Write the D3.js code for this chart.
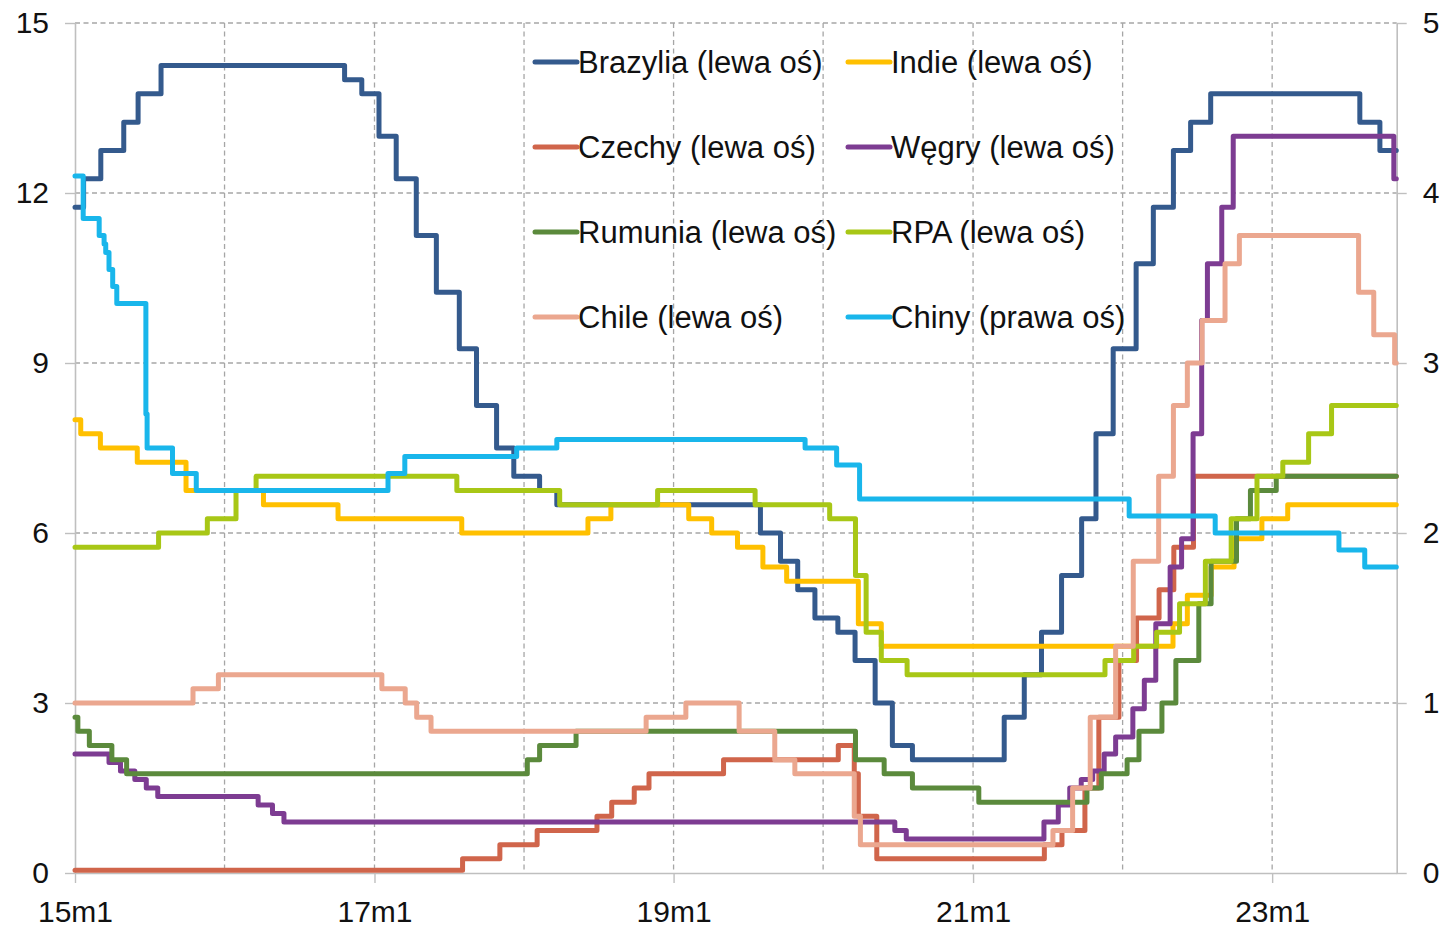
<!DOCTYPE html>
<html>
<head>
<meta charset="utf-8">
<script src="https://cdn.jsdelivr.net/npm/d3@7"></script>
<style>
  html, body { margin: 0; padding: 0; background: #ffffff; }
  svg { display: block; }
</style>
</head>
<body>
<svg id="chart" width="1445" height="929"></svg>
<script>
// Policy rates, step changes: [date of change, rate in %]
const brazil = [
  ["2015-01-01", 11.75], ["2015-01-22", 12.25], ["2015-03-05", 12.75], ["2015-04-30", 13.25],
  ["2015-06-04", 13.75], ["2015-07-30", 14.25], ["2016-10-20", 14.00], ["2016-12-01", 13.75],
  ["2017-01-12", 13.00], ["2017-02-23", 12.25], ["2017-04-13", 11.25], ["2017-06-01", 10.25],
  ["2017-07-27", 9.25], ["2017-09-07", 8.25], ["2017-10-26", 7.50], ["2017-12-07", 7.00],
  ["2018-02-08", 6.75], ["2018-03-22", 6.50], ["2019-08-01", 6.00], ["2019-09-19", 5.50],
  ["2019-10-31", 5.00], ["2019-12-12", 4.50], ["2020-02-06", 4.25], ["2020-03-19", 3.75],
  ["2020-05-07", 3.00], ["2020-06-18", 2.25], ["2020-08-06", 2.00], ["2021-03-18", 2.75],
  ["2021-05-06", 3.50], ["2021-06-17", 4.25], ["2021-08-05", 5.25], ["2021-09-23", 6.25],
  ["2021-10-28", 7.75], ["2021-12-09", 9.25], ["2022-02-03", 10.75], ["2022-03-17", 11.75],
  ["2022-05-05", 12.75], ["2022-06-16", 13.25], ["2022-08-04", 13.75], ["2023-08-03", 13.25],
  ["2023-09-21", 12.75], ["2023-10-31", 12.75]
];
const india = [
  ["2015-01-01", 8.00], ["2015-01-15", 7.75], ["2015-03-04", 7.50], ["2015-06-02", 7.25],
  ["2015-09-29", 6.75], ["2016-04-05", 6.50], ["2016-10-04", 6.25], ["2017-08-02", 6.00],
  ["2018-06-06", 6.25], ["2018-08-01", 6.50], ["2019-02-07", 6.25], ["2019-04-04", 6.00],
  ["2019-06-06", 5.75], ["2019-08-07", 5.40], ["2019-10-04", 5.15], ["2020-03-27", 4.40],
  ["2020-05-22", 4.00], ["2022-05-04", 4.40], ["2022-06-08", 4.90], ["2022-08-05", 5.40],
  ["2022-09-30", 5.90], ["2022-12-07", 6.25], ["2023-02-08", 6.50], ["2023-10-31", 6.50]
];
const czech = [
  ["2015-01-01", 0.05], ["2017-08-04", 0.25], ["2017-11-03", 0.50], ["2018-02-02", 0.75],
  ["2018-06-28", 1.00], ["2018-08-03", 1.25], ["2018-09-27", 1.50], ["2018-11-02", 1.75],
  ["2019-05-03", 2.00], ["2020-02-07", 2.25], ["2020-03-17", 1.75], ["2020-03-27", 1.00],
  ["2020-05-11", 0.25], ["2021-06-24", 0.50], ["2021-08-06", 0.75], ["2021-10-01", 1.50],
  ["2021-11-04", 2.75], ["2021-12-23", 3.75], ["2022-02-04", 4.50], ["2022-03-31", 5.00],
  ["2022-05-06", 5.75], ["2022-06-23", 7.00], ["2023-10-31", 7.00]
];
const hungary = [
  ["2015-01-01", 2.10], ["2015-03-25", 1.95], ["2015-04-22", 1.80], ["2015-05-27", 1.65],
  ["2015-06-24", 1.50], ["2015-07-22", 1.35], ["2016-03-23", 1.20], ["2016-04-27", 1.05],
  ["2016-05-25", 0.90], ["2020-06-24", 0.75], ["2020-07-22", 0.60], ["2021-06-23", 0.90],
  ["2021-07-28", 1.20], ["2021-08-25", 1.50], ["2021-09-22", 1.65], ["2021-10-20", 1.80],
  ["2021-11-17", 2.10], ["2021-12-15", 2.40], ["2022-01-26", 2.90], ["2022-02-23", 3.40],
  ["2022-03-23", 4.40], ["2022-04-27", 5.40], ["2022-05-25", 5.90], ["2022-06-22", 7.75],
  ["2022-07-13", 9.75], ["2022-07-27", 10.75], ["2022-08-31", 11.75], ["2022-09-28", 13.00],
  ["2023-10-25", 12.25], ["2023-10-31", 12.25]
];
const romania = [
  ["2015-01-01", 2.75], ["2015-01-08", 2.50], ["2015-02-05", 2.25], ["2015-04-01", 2.00],
  ["2015-05-07", 1.75], ["2018-01-09", 2.00], ["2018-02-08", 2.25], ["2018-05-08", 2.50],
  ["2020-03-20", 2.00], ["2020-05-29", 1.75], ["2020-08-06", 1.50], ["2021-01-15", 1.25],
  ["2021-10-06", 1.50], ["2021-11-10", 1.75], ["2022-01-12", 2.00], ["2022-02-10", 2.50],
  ["2022-04-07", 3.00], ["2022-05-11", 3.75], ["2022-07-06", 4.75], ["2022-08-05", 5.50],
  ["2022-10-06", 6.25], ["2022-11-09", 6.75], ["2023-01-11", 7.00], ["2023-10-31", 7.00]
];
const rpa = [
  ["2015-01-01", 5.75], ["2015-07-24", 6.00], ["2015-11-20", 6.25], ["2016-01-29", 6.75],
  ["2016-03-18", 7.00], ["2017-07-21", 6.75], ["2018-03-29", 6.50], ["2018-11-23", 6.75],
  ["2019-07-19", 6.50], ["2020-01-17", 6.25], ["2020-03-20", 5.25], ["2020-04-15", 4.25],
  ["2020-05-22", 3.75], ["2020-07-24", 3.50], ["2021-11-19", 3.75], ["2022-01-28", 4.00],
  ["2022-03-25", 4.25], ["2022-05-20", 4.75], ["2022-07-22", 5.50], ["2022-09-23", 6.25],
  ["2022-11-25", 7.00], ["2023-01-27", 7.25], ["2023-03-31", 7.75], ["2023-05-26", 8.25],
  ["2023-10-31", 8.25]
];
const chile = [
  ["2015-01-01", 3.00], ["2015-10-16", 3.25], ["2015-12-17", 3.50], ["2017-01-19", 3.25],
  ["2017-03-17", 3.00], ["2017-04-14", 2.75], ["2017-05-19", 2.50], ["2018-10-26", 2.75],
  ["2019-01-31", 3.00], ["2019-06-10", 2.50], ["2019-09-05", 2.00], ["2019-10-24", 1.75],
  ["2020-03-17", 1.00], ["2020-04-01", 0.50], ["2021-07-15", 0.75], ["2021-09-01", 1.50],
  ["2021-10-14", 2.75], ["2021-12-15", 4.00], ["2022-01-27", 5.50], ["2022-03-30", 7.00],
  ["2022-05-05", 8.25], ["2022-06-08", 9.00], ["2022-07-14", 9.75], ["2022-09-08", 10.75],
  ["2022-10-13", 11.25], ["2023-07-31", 10.25], ["2023-09-06", 9.50], ["2023-10-27", 9.00],
  ["2023-10-31", 9.00]
];
const china = [
  ["2015-01-01", 4.10], ["2015-01-21", 3.85], ["2015-03-01", 3.75], ["2015-03-13", 3.70],
  ["2015-03-17", 3.65], ["2015-03-25", 3.55], ["2015-04-03", 3.45], ["2015-04-13", 3.35],
  ["2015-06-23", 2.70], ["2015-06-26", 2.50], ["2015-08-27", 2.35], ["2015-10-24", 2.25],
  ["2017-02-03", 2.35], ["2017-03-16", 2.45], ["2017-12-14", 2.50], ["2018-03-22", 2.55],
  ["2019-11-18", 2.50], ["2020-02-03", 2.40], ["2020-03-30", 2.20], ["2022-01-17", 2.10],
  ["2022-08-15", 2.00], ["2023-06-13", 1.90], ["2023-08-15", 1.80], ["2023-10-31", 1.80]
];

const seriesNames = [
  "Brazylia (lewa oś)", "Indie (lewa oś)", "Czechy (lewa oś)", "Węgry (lewa oś)",
  "Rumunia (lewa oś)", "RPA (lewa oś)", "Chile (lewa oś)", "Chiny (prawa oś)"
];
const seriesData = [brazil, india, czech, hungary, romania, rpa, chile, china];
const seriesAxis = ["left", "left", "left", "left", "left", "left", "left", "right"];

const leftTicks = [0, 3, 6, 9, 12, 15];
const rightTicks = [0, 1, 2, 3, 4, 5];
const xTickDates = ["2015-01-01", "2017-01-01", "2019-01-01", "2021-01-01", "2023-01-01"];
const xTickLabels = ["15m1", "17m1", "19m1", "21m1", "23m1"];
const xGridDates = ["2016-01-01", "2017-01-01", "2018-01-01", "2019-01-01",
                    "2020-01-01", "2021-01-01", "2022-01-01", "2023-01-01"];

// ---- styling ----
const colors = ["#345A8D", "#FFC000", "#D0654B", "#7D3C92", "#5B8A3C", "#A8C716", "#EBA78F", "#19B6EB"];
const FONT = "'Liberation Sans', Arial, sans-serif";
const plot = { left: 75, right: 1396.7, top: 23, bottom: 873 };

const parse = d3.timeParse("%Y-%m-%d");
const svg = d3.select("#chart");

const x = d3.scaleTime()
  .domain([parse("2015-01-01"), parse("2023-11-01")])
  .range([plot.left, plot.right]);
const yL = d3.scaleLinear().domain([0, 15]).range([plot.bottom, plot.top]);
const yR = d3.scaleLinear().domain([0, 5]).range([plot.bottom, plot.top]);

svg.append("rect").attr("width", 1445).attr("height", 929).attr("fill", "#fff");

// dashed gridlines
const grid = svg.append("g").attr("stroke", "#A6A6A6").attr("stroke-width", 1.3)
  .attr("stroke-dasharray", "5,3.5").attr("fill", "none");
grid.selectAll("line.h").data(leftTicks.filter(v => v > 0)).join("line")
  .attr("x1", plot.left).attr("x2", plot.right)
  .attr("y1", d => yL(d)).attr("y2", d => yL(d));
grid.selectAll("line.v").data(xGridDates).join("line")
  .attr("x1", d => x(parse(d))).attr("x2", d => x(parse(d)))
  .attr("y1", plot.top).attr("y2", plot.bottom);

// axes
function styleAxis(g) {
  g.attr("font-size", null).attr("font-family", null);
  g.select(".domain").attr("stroke", "#BFBFBF").attr("stroke-width", 1.6);
  g.selectAll(".tick line").attr("stroke", "#BFBFBF").attr("stroke-width", 1.4);
  g.selectAll(".tick text").attr("fill", "#111").style("font-family", FONT).style("font-size", "30px");
}
const intFormat = d3.format("d");

svg.append("g").attr("transform", `translate(0,${plot.bottom})`)
  .call(d3.axisBottom(x).tickValues(xTickDates.map(parse))
    .tickFormat((d, i) => xTickLabels[i]).tickSize(10).tickSizeOuter(0).tickPadding(18))
  .call(styleAxis);

svg.append("g").attr("transform", `translate(${plot.left},0)`)
  .call(d3.axisLeft(yL).tickValues(leftTicks).tickFormat(intFormat)
    .tickSize(10).tickSizeOuter(0).tickPadding(16))
  .call(styleAxis);

svg.append("g").attr("transform", `translate(${plot.right},0)`)
  .call(d3.axisRight(yR).tickValues(rightTicks).tickFormat(intFormat)
    .tickSize(10).tickSizeOuter(0).tickPadding(16))
  .call(styleAxis);

// step lines
const lines = svg.append("g").attr("fill", "none").attr("stroke-width", 5)
  .attr("stroke-linejoin", "round").attr("stroke-linecap", "round");
seriesData.forEach((data, i) => {
  const y = seriesAxis[i] === "right" ? yR : yL;
  const line = d3.line()
    .x(d => x(parse(d[0])))
    .y(d => y(d[1]))
    .curve(d3.curveStepAfter);
  lines.append("path").datum(data).attr("d", line).attr("stroke", colors[i]);
});

// legend: two columns, four rows
const legendCols = [533, 846];
const legendRows = [62, 147, 232, 317];
const legend = svg.append("g");
seriesNames.forEach((name, i) => {
  const cx = legendCols[i % 2];
  const cy = legendRows[Math.floor(i / 2)];
  legend.append("line")
    .attr("x1", cx + 2).attr("x2", cx + 44).attr("y1", cy).attr("y2", cy)
    .attr("stroke", colors[i]).attr("stroke-width", 5).attr("stroke-linecap", "round");
  legend.append("text")
    .attr("x", cx + 45).attr("y", cy + 10.5)
    .attr("fill", "#111").style("font-family", FONT).style("font-size", "31px")
    .text(name);
});
</script>
</body>
</html>
